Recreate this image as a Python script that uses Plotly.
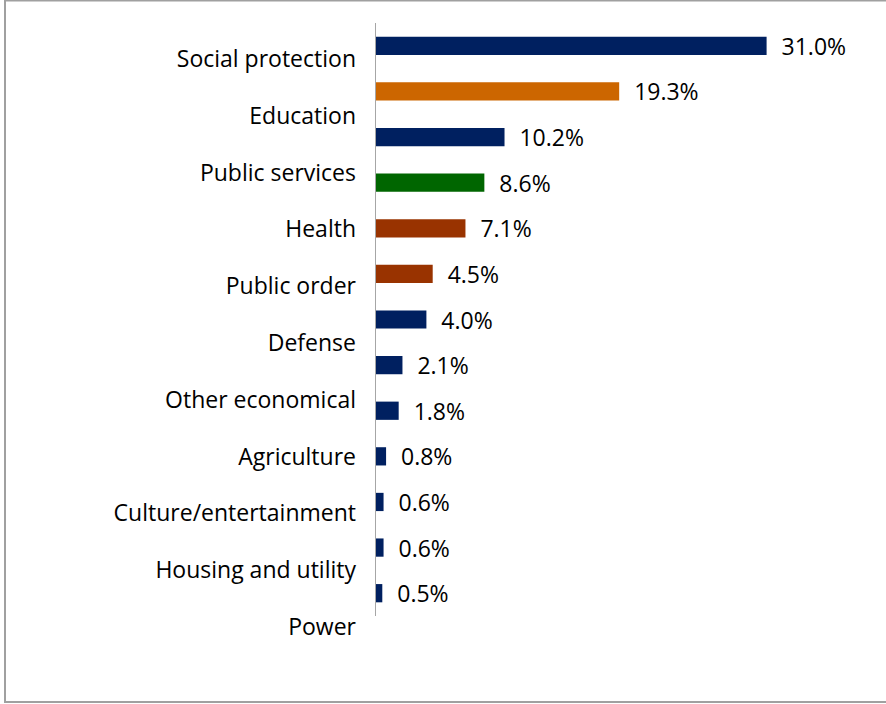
import plotly.graph_objects as go

# Data
bar_values = [31.0, 19.3, 10.2, 8.6, 7.1, 4.5, 4.0, 2.1, 1.8, 0.8, 0.6, 0.6, 0.5]
bar_colors = ["#002060", "#CC6600", "#002060", "#006600", "#993300", "#993300",
              "#002060", "#002060", "#002060", "#002060", "#002060", "#002060", "#002060"]
bar_ids = list(range(len(bar_values)))
category_labels = ["Social protection", "Education", "Public services", "Health",
                   "Public order", "Defense", "Other economical", "Agriculture",
                   "Culture/entertainment", "Housing and utility", "Power"]

FONT = "Open Sans"
FS = 23
W, H = 886, 704
L, R, T, B = 376, 6, 23, 54

fig = go.Figure()
fig.add_trace(go.Bar(
    x=bar_values, y=bar_ids, orientation="h",
    marker=dict(color=bar_colors, line=dict(width=0)),
    text=["\u00a0\u00a0%.1f%%" % v for v in bar_values],
    textposition="outside", cliponaxis=False, constraintext="none",
    textfont=dict(family=FONT, size=FS, color="#000000"),
    hoverinfo="skip", xaxis="x", yaxis="y",
))
# invisible trace carrying the category labels axis
fig.add_trace(go.Scatter(
    x=[0] * len(category_labels), y=list(range(len(category_labels))),
    mode="markers", marker=dict(opacity=0), hoverinfo="skip",
    xaxis="x2", yaxis="y2", showlegend=False,
))

plot_h = H - T - B
bar_bottom_px = 616
bar_dom0 = (H - B - bar_bottom_px) / plot_h
label_first_px, label_step = 59, 56.8
lab_top = -(label_first_px - T) / label_step
lab_bot = (H - B - label_first_px) / label_step

fig.update_layout(
    width=W, height=H,
    margin=dict(l=L, r=R, t=T, b=B),
    paper_bgcolor="white", plot_bgcolor="rgba(0,0,0,0)",
    showlegend=False, bargap=0.6,
    xaxis=dict(domain=[0, 1], range=[0, 40], visible=False, anchor="y"),
    yaxis=dict(domain=[bar_dom0, 1], type="linear", range=[12.5, -0.5],
               showticklabels=False, showgrid=False, zeroline=False,
               showline=True, linecolor="#A6A6A6", linewidth=1, ticks="",
               anchor="x"),
    xaxis2=dict(domain=[0, 1], range=[0, 40], visible=False, anchor="y2"),
    yaxis2=dict(domain=[0, 1], type="linear", range=[lab_bot, lab_top],
                tickmode="array", tickvals=list(range(len(category_labels))),
                ticktext=category_labels, showgrid=False, zeroline=False,
                showline=False, ticks="", ticklabelstandoff=19,
                tickfont=dict(family=FONT, size=FS, color="#000000"),
                anchor="x2"),
    shapes=[dict(type="rect", xref="paper", yref="paper",
                 x0=(5 - L) / (W - L - R), x1=1.05,
                 y0=(H - B - 702) / plot_h, y1=(H - B - 0.5) / plot_h,
                 line=dict(color="#A0A0A0", width=2), fillcolor="rgba(0,0,0,0)",
                 layer="below")],
)

fig.write_html("out.html")
